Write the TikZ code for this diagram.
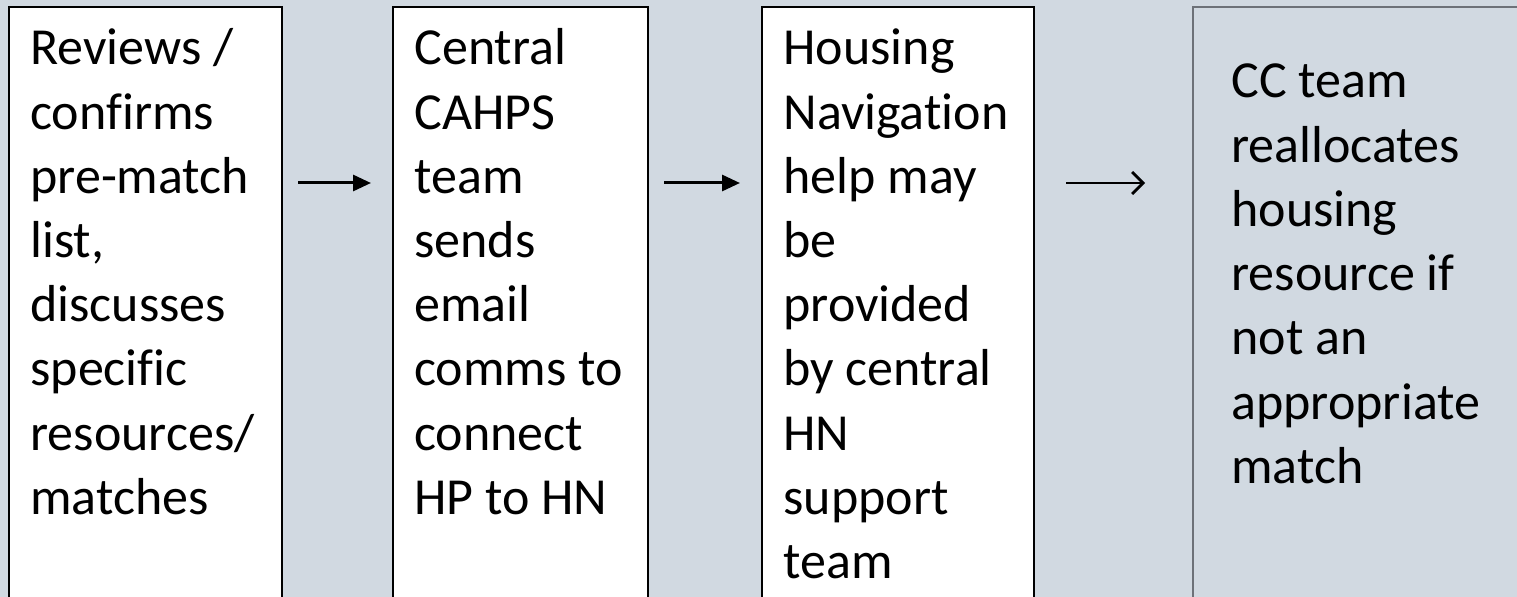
\documentclass[tikz,border=0pt]{standalone}
\usepackage{fontspec}
\setmainfont{Carlito}[Ligatures=NoCommon]
\usetikzlibrary{arrows.meta}
\definecolor{bgc}{HTML}{D1D9E1}
\definecolor{graybord}{HTML}{6D7178}
\begin{document}
\begin{tikzpicture}[x=0.5bp,y=-0.5bp,
  whitebox/.style={draw=black, line width=1.1bp, fill=white, inner sep=0pt, outer sep=0pt},
  graybox/.style={draw=graybord, line width=1bp, fill=bgc, inner sep=0pt, outer sep=0pt},
  boxtext/.style={anchor=base west, inner sep=0pt, align=left, font=\fontsize{26bp}{32.1bp}\selectfont},
  arrfill/.style={line width=1.5bp, -{Triangle[length=9bp,width=8bp]}},
  arropen/.style={line width=1.4bp, -{Straight Barb[length=5.5bp,width=11bp,line width=1.4bp]}}]
\useasboundingbox (0,0) rectangle (1517,597);
\clip (0,0) rectangle (1517,597);
\fill[bgc] (0,0) rectangle (1517,597);
% boxes
\path[whitebox] (9,7) rectangle (282,640);
\path[whitebox] (393,7) rectangle (648,640);
\path[whitebox] (762,7) rectangle (1034,640);
\path[graybox] (1193,7) rectangle (1560,640);
\coordinate (b1) at (282,183);
\coordinate (b2l) at (393,183);
\coordinate (b2) at (648,183);
\coordinate (b3l) at (762,183);
\coordinate (b3) at (1034,183);
\coordinate (b4l) at (1193,183);
% texts (anchored at the baseline of the last line)
\node[boxtext] (t1) at (30,514.4) {Reviews /\\confirms\\pre-match\\list,\\discusses\\specific\\resources/\\matches};
\node[boxtext] (t2) at (414,514.4) {Central\\CAHPS\\team\\sends\\email\\comms to\\connect\\HP to HN};
\node[boxtext] (t3) at (783,578.6) {Housing\\Navigation\\help may\\be\\provided\\by central\\HN\\support\\team};
\node[boxtext] (t4) at (1231,483.2) {CC team\\reallocates\\housing\\resource if\\not an\\appropriate\\match};
% arrows
\draw[arrfill, shorten <=8bp, shorten >=11bp] (b1) -- (b2l);
\draw[arrfill, shorten <=8bp, shorten >=11bp] (b2) -- (b3l);
\draw[arropen, shorten <=16bp, shorten >=24bp] (b3) -- (b4l);
\end{tikzpicture}
\end{document}
